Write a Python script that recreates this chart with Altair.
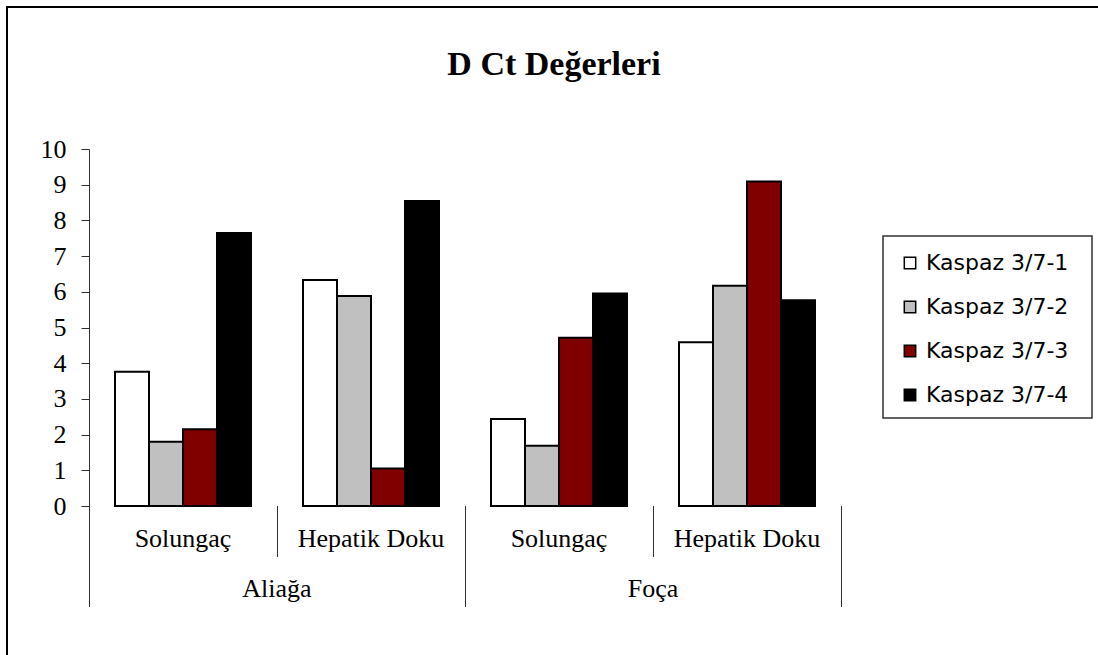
import altair as alt
import pandas as pd

regions = ["Aliağa", "Aliağa", "Foça", "Foça"]
tissues = ["Solungaç", "Hepatik Doku", "Solungaç", "Hepatik Doku"]
series_names = ["Kaspaz 3/7-1", "Kaspaz 3/7-2", "Kaspaz 3/7-3", "Kaspaz 3/7-4"]
k1 = [3.76, 6.33, 2.44, 4.59]
k2 = [1.80, 5.88, 1.69, 6.17]
k3 = [2.15, 1.05, 4.71, 9.09]
k4 = [7.65, 8.54, 5.95, 5.76]
colors = ["#FFFFFF", "#C0C0C0", "#800000", "#000000"]
y_ticks = list(range(0, 11))
title_text = "D Ct Değerleri"

keys = [f"{r} | {t}" for r, t in zip(regions, tissues)]
rows = []
for s, vals in zip(series_names, [k1, k2, k3, k4]):
    for k, r, t, v in zip(keys, regions, tissues, vals):
        rows.append(dict(key=k, region=r, tissue=t, series=s, value=v))
df = pd.DataFrame(rows)

W, H = 752, 357
SERIF = "Liberation Serif"
AXC = "#303030"

xscale = alt.Scale(domain=keys, paddingInner=0, paddingOuter=0)
xenc_axis = alt.X("key:N", scale=xscale, title=None,
                  axis=alt.Axis(labels=False, ticks=False, domainColor=AXC, domainWidth=1))

bars = alt.Chart(df).mark_bar(stroke="black", strokeWidth=2).encode(
    x=xenc_axis,
    xOffset=alt.XOffset("series:N", sort=series_names,
                        scale=alt.Scale(domain=series_names, paddingInner=0, paddingOuter=0.765)),
    y=alt.Y("value:Q", title=None,
            scale=alt.Scale(domain=[0, 10], nice=False),
            axis=alt.Axis(values=y_ticks, grid=False, tickSize=8, tickColor=AXC,
                          domainColor=AXC, labelFont=SERIF, labelFontSize=26,
                          labelColor="black", labelPadding=15)),
    fill=alt.Fill("series:N", sort=series_names,
                  scale=alt.Scale(domain=series_names, range=colors),
                  legend=alt.Legend(title=None, orient="none", legendX=810, legendY=103,
                                    symbolType="square", symbolSize=130,
                                    symbolStrokeColor="black", symbolStrokeWidth=1.5,
                                    labelFont="DejaVu Sans", labelFontSize=22,
                                    labelColor="black", labelOffset=5,
                                    rowPadding=22, padding=0)),
)

# category dividers (multi-level axis)
long_df = pd.DataFrame({"key": [keys[0], keys[2]]})
end_df = pd.DataFrame({"key": [keys[3]]})
short_df = pd.DataFrame({"key": [keys[1], keys[3]]})

def rule(data, pos, length):
    return alt.Chart(data).mark_rule(color=AXC, strokeWidth=1, xOffset=0.5).encode(
        x=alt.X("key:N", scale=xscale, bandPosition=pos, axis=None),
        y=alt.value(H), y2=alt.value(H + length))

rules = rule(long_df, 0, 101) + rule(end_df, 1, 101) + rule(short_df, 0, 51)

lab_df = pd.DataFrame({"key": keys, "tissue": tissues})
tissue_text = alt.Chart(lab_df).mark_text(font=SERIF, fontSize=26, color="black",
                                          baseline="middle").encode(
    x=alt.X("key:N", scale=xscale, axis=None),
    y=alt.value(H + 33), text="tissue:N")

reg_df = pd.DataFrame({"key": [keys[1], keys[3]], "region": [regions[0], regions[2]]})
region_text = alt.Chart(reg_df).mark_text(font=SERIF, fontSize=26, color="black",
                                          baseline="middle").encode(
    x=alt.X("key:N", scale=xscale, bandPosition=0, axis=None),
    y=alt.value(H + 83), text="region:N")

one = pd.DataFrame({"t": [title_text]})
title = alt.Chart(one).mark_text(font=SERIF, fontSize=34, fontWeight="bold",
                                 color="black", baseline="alphabetic").encode(
    x=alt.value(465), y=alt.value(-74), text="t:N")

legend_box = alt.Chart(one).mark_rect(fill=None, stroke=AXC, strokeWidth=1.5).encode(
    x=alt.value(794), x2=alt.value(1003), y=alt.value(87), y2=alt.value(269))

border = alt.Chart(one).mark_rect(fill=None, stroke="black", strokeWidth=2).encode(
    x=alt.value(-82), x2=alt.value(1040), y=alt.value(-142), y2=alt.value(560))

chart = alt.layer(border, bars, rules, tissue_text, region_text, title, legend_box).properties(
    width=W, height=H,
    padding={"left": 89, "top": 149, "right": 257, "bottom": 149},
    autosize=alt.AutoSizeParams(type="none"),
    background="white",
).configure_view(stroke=None)

chart.save("out.html", embed_options={"renderer": "svg", "actions": False})
